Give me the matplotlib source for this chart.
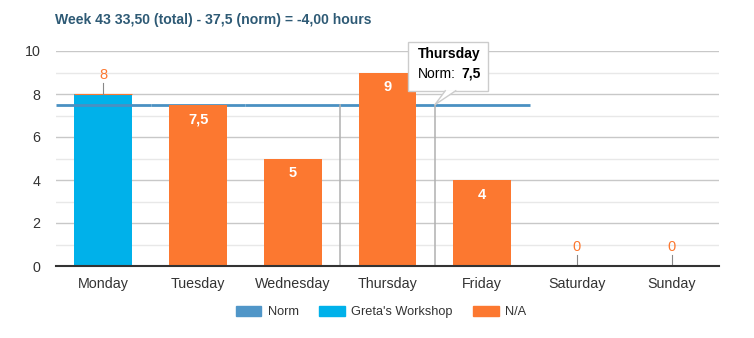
import matplotlib.pyplot as plt
from matplotlib.patches import Patch, Polygon, Rectangle

plt.rcParams['font.family'] = ['Liberation Sans', 'DejaVu Sans']

days = ['Monday', 'Tuesday', 'Wednesday', 'Thursday', 'Friday', 'Saturday', 'Sunday']
greta = [8, 0, 0, 0, 0, 0, 0]
na = [0, 7.5, 5, 9, 4, 0, 0]
norm = [7.5, 7.5, 7.5, 7.5, 7.5, 0, 0]
bar_labels = ['8', '7,5', '5', '9', '4', '0', '0']

blue = '#00b1ea'
orange = '#fc7830'
norm_color = '#4a90c2'

fig = plt.figure(figsize=(7.54, 3.38), dpi=100)
ax = fig.add_axes([56 / 754, 1 - 266 / 338, (719 - 56) / 754, (266 - 51) / 338])

x = list(range(len(days)))
w = 0.61

ax.bar(x, greta, width=w, color=blue, zorder=2)
# norm is drawn as one flat segment per day
for i, v in enumerate(norm):
    ax.hlines(v, i - 0.5, i + 0.5, color=norm_color, lw=2, zorder=3)
totals = [g + n for g, n in zip(greta, na)]
ax.bar(x, na, width=w, bottom=greta, color=orange, zorder=4)
ax.hlines(8, -w / 2, w / 2, color=orange, lw=0.8, zorder=4)

# value labels: inside tall bars, above with a leader line otherwise
for i, (t, lab) in enumerate(zip(totals, bar_labels)):
    if na[i] > 0:
        ax.text(i, t - 0.35, lab, ha='center', va='top', color='white',
                fontsize=10.5, fontweight='bold', zorder=6)
    else:
        ax.plot([i, i], [t, t + 0.5], color='#888888', lw=0.8, zorder=5)
        ax.text(i, t + 0.55, lab, ha='center', va='bottom', color=orange,
                fontsize=10.5, zorder=6)

ax.set_xlim(-0.5, len(days) - 0.5)
ax.set_ylim(0, 10)
ax.set_yticks([0, 2, 4, 6, 8, 10])
ax.set_yticks([1, 3, 5, 7, 9], minor=True)
ax.grid(axis='y', which='major', color='#c8c8c8', lw=1, zorder=0)
ax.grid(axis='y', which='minor', color='#e8e8e8', lw=1, zorder=0)
ax.set_axisbelow(True)
ax.set_xticks(x)
ax.set_xticklabels(days)
ax.tick_params(axis='both', which='both', length=0, labelsize=10.3, colors='#333333', pad=8)
ax.tick_params(axis='y', pad=11)
for s in ['left', 'right', 'top']:
    ax.spines[s].set_visible(False)
ax.spines['bottom'].set_color('#333333')
ax.spines['bottom'].set_linewidth(1.5)
ax.spines['bottom'].set_zorder(7)

# hover crosshair and tooltip on Thursday
for xv in [2.5, 3.5]:
    ax.plot([xv, xv], [0, 7.5], color='#b0b0b0', lw=1.1, zorder=5)
box = Rectangle((3.22, 8.15), 0.84, 2.27, facecolor='white', edgecolor='#cccccc',
                lw=1, zorder=8, clip_on=False)
ax.add_patch(box)
tip = Polygon([[3.61, 8.17], [3.72, 8.17], [3.5, 7.5]], closed=True, facecolor='white',
              edgecolor='none', zorder=9, clip_on=False)
ax.add_patch(tip)
ax.plot([3.61, 3.5, 3.72], [8.15, 7.5, 8.15], color='#cccccc', lw=1, zorder=9)
ax.text(3.32, 9.85, 'Thursday', fontsize=10, fontweight='bold', color='black',
        va='center', zorder=10)
ax.text(3.32, 8.95, 'Norm:', fontsize=10, color='black', va='center', zorder=10)
ax.text(3.78, 8.95, '7,5', fontsize=10, fontweight='bold', color='black',
        va='center', zorder=10)

fig.text(55 / 754, 1 - 20 / 338, 'Week 43 33,50 (total) - 37,5 (norm) = -4,00 hours',
         fontsize=10.1, fontweight='bold', color='#2e5a75', va='center')

handles = [Patch(color='#5096c8', label='Norm'),
           Patch(color=blue, label="Greta's Workshop"),
           Patch(color=orange, label='N/A')]
fig.legend(handles=handles, loc='center', bbox_to_anchor=(381 / 754, 1 - 312 / 338),
           ncol=3, frameon=False, fontsize=9.2, handlelength=2.0, handleheight=0.9,
           columnspacing=1.6, handletextpad=0.5, labelcolor='#333333')

fig.savefig('out.png', dpi=100)
